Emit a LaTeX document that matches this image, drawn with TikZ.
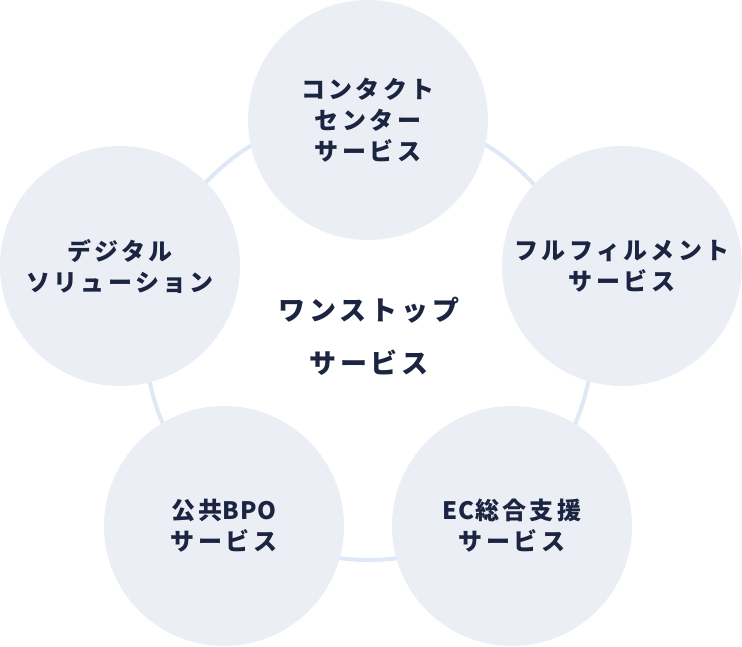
\documentclass[tikz,border=0pt]{standalone}
\usepackage{fontspec}
\newfontfamily\jpfont[LetterSpace=14]{Noto Sans CJK JP}
\newcommand\tightlatin[1]{{\addfontfeature{LetterSpace=4}#1}}
\definecolor{ringblue}{HTML}{DFE8F5}
\definecolor{discgray}{HTML}{EBEEF5}
\definecolor{inknavy}{HTML}{1B2440}
\tikzset{
  service/.style={circle, fill=discgray, minimum size=240pt, inner sep=0pt,
    align=center, text=inknavy, font=\jpfont\bfseries\fontsize{24}{31}\selectfont},
  hub/.style={align=center, text=inknavy, font=\jpfont\bfseries\fontsize{27}{53}\selectfont},
  ring/.style={draw=ringblue, line width=4pt}
}
\begin{document}
\begin{tikzpicture}[x=1pt,y=-1pt]
    \useasboundingbox (0,0) rectangle (742,646);

    % Ring behind the circles
    \coordinate (hubc) at (369,336);
    \draw[ring] (hubc) circle[radius=224];

    % Service circles
    \node[service] (contact) at (368,120) {コンタクト\\センター\\サービス};
    \node[service] (fulfil) at (622,266) {フルフィルメント\\サービス};
    \node[service] (ecsupport) at (512,526) {\tightlatin{EC}総合支援\\サービス};
    \node[service] (publicbpo) at (224,526) {公共\tightlatin{BPO}\\サービス};
    \node[service] (digital) at (120,266) {デジタル\\ソリューション};

    % Centre label
    \node[hub] (onestop) at (hubc) {ワンストップ\\サービス};
\end{tikzpicture}
\end{document}
